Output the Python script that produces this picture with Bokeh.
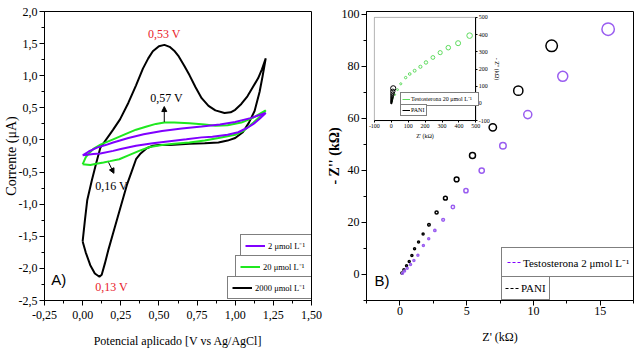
import numpy as np
from bokeh.plotting import figure
from bokeh.models import (Range1d, LinearAxis, FixedTicker, Label, Arrow, NormalHead,
                          Legend, LegendItem, BoxAnnotation)
from bokeh.layouts import row
from bokeh.embed import file_html
from bokeh.resources import INLINE

# ---------------- Panel A: cyclic voltammetry ----------------
cv_2000_potential = [0.00, 0.015, 0.03, 0.06, 0.09, 0.116, 0.14, 0.17, 0.20, 0.245, 0.30, 0.35, 0.395,
                     0.43, 0.46, 0.50, 0.536, 0.57, 0.60, 0.63, 0.665, 0.70, 0.74, 0.78, 0.825, 0.87,
                     0.93, 0.97, 1.00, 1.04, 1.08, 1.115, 1.15, 1.175, 1.20,
                     1.18, 1.16, 1.127, 1.09, 1.05, 1.00, 0.95, 0.89, 0.80, 0.70, 0.57, 0.50, 0.46,
                     0.42, 0.38, 0.35, 0.32, 0.29, 0.26, 0.23, 0.20, 0.17, 0.145, 0.125, 0.11,
                     0.08, 0.05, 0.02, 0.00]
cv_2000_current = [-1.58, -1.25, -0.94, -0.63, -0.35, -0.12, -0.04, 0.06, 0.16, 0.32, 0.58, 0.85, 1.11,
                   1.27, 1.38, 1.46, 1.48, 1.45, 1.39, 1.30, 1.16, 1.01, 0.82, 0.65, 0.53, 0.46,
                   0.42, 0.43, 0.47, 0.56, 0.68, 0.82, 0.96, 1.10, 1.27,
                   1.00, 0.75, 0.45, 0.27, 0.12, 0.03, -0.01, -0.04, -0.05, -0.06, -0.08, -0.08, -0.09,
                   -0.13, -0.21, -0.30, -0.50, -0.70, -0.95, -1.20, -1.45, -1.70, -1.93, -2.10, -2.13,
                   -2.08, -1.95, -1.75, -1.58]

cv_20_potential = [0.00, 0.02, 0.04, 0.07, 0.12, 0.20, 0.28, 0.35, 0.42, 0.48, 0.535, 0.60, 0.70,
                   0.80, 0.87, 0.95, 1.04, 1.12, 1.20,
                   1.17, 1.12, 1.06, 1.00, 0.89, 0.80, 0.70, 0.60, 0.52, 0.44, 0.37, 0.30, 0.24,
                   0.18, 0.137, 0.09, 0.05, 0.00]
cv_20_current = [-0.38, -0.27, -0.21, -0.14, -0.07, 0.01, 0.09, 0.16, 0.21, 0.25, 0.27, 0.27, 0.26,
                 0.24, 0.22, 0.23, 0.27, 0.35, 0.46,
                 0.38, 0.27, 0.15, 0.08, 0.03, -0.01, -0.04, -0.06, -0.08, -0.11, -0.17, -0.24, -0.30,
                 -0.33, -0.35, -0.37, -0.39, -0.38]

cv_2_potential = [0.00, 0.04, 0.094, 0.15, 0.20, 0.30, 0.40, 0.52, 0.65, 0.78, 0.90, 1.00, 1.10, 1.20,
                  1.16, 1.12, 1.08, 1.02, 0.95, 0.85, 0.78, 0.68, 0.57, 0.46, 0.35, 0.25, 0.20, 0.116,
                  0.07, 0.03, 0.00]
cv_2_current = [-0.24, -0.18, -0.12, -0.08, -0.04, 0.03, 0.09, 0.14, 0.18, 0.21, 0.24, 0.28, 0.34, 0.42,
                0.33, 0.25, 0.19, 0.12, 0.08, 0.05, 0.04, 0.01, -0.02, -0.05, -0.09, -0.14, -0.17, -0.21,
                -0.22, -0.23, -0.24]

cv_labels = ["2 μmol L⁻¹", "20 μmol L⁻¹", "2000 μmol L⁻¹"]

a_x_ticks = [-0.25, 0.0, 0.25, 0.5, 0.75, 1.0, 1.25, 1.5]
a_x_tick_labels = ["-0,25", "0,00", "0,25", "0,50", "0,75", "1,00", "1,25", "1,50"]
a_y_ticks = [-2.5, -2.0, -1.5, -1.0, -0.5, 0.0, 0.5, 1.0, 1.5, 2.0]
a_y_tick_labels = ["-2,5", "-2,0", "-1,5", "-1,0", "-0,5", "0,0", "0,5", "1,0", "1,5", "2,0"]

# ---------------- Panel B: impedance (Nyquist) ----------------
pani_zre = [0.15, 0.30, 0.50, 0.70, 0.90, 1.10, 1.40, 1.74, 2.18, 2.75, 3.41, 4.25, 5.44, 6.96, 8.87, 11.37]
pani_zim = [0.6, 1.8, 3.3, 5.0, 7.3, 9.9, 12.5, 15.5, 19.1, 23.8, 29.3, 36.5, 45.7, 56.5, 70.6, 87.8]

testo2_zre = [0.20, 0.35, 0.55, 0.80, 1.05, 1.35, 1.76, 2.16, 2.62, 3.24, 3.97, 4.95, 6.13, 7.72, 9.58, 12.2, 15.6]
testo2_zim = [0.5, 1.3, 2.4, 3.8, 5.4, 7.4, 11.1, 13.7, 16.9, 21.0, 25.9, 32.2, 39.9, 49.4, 61.4, 76.1, 94.2]

testo20_zre = [3, 8, 21, 37, 56, 85, 109, 138, 172, 205, 246, 289, 337, 395, 463]
testo20_zim = [13, 32, 51, 80, 114, 150, 171, 190, 213, 238, 267, 295, 324, 350, 394]

eis_labels = ["Testosterona 2 μmol L⁻¹", "PANI"]
inset_labels = ["Testosterona 20 μmol L⁻¹", "PANI"]

b_x_ticks = [0, 5, 10, 15]
b_y_ticks = [0, 20, 40, 60, 80, 100]
inset_ticks = [-100, 0, 100, 200, 300, 400, 500]

# ---------------- styling ----------------
SERIF = "Liberation Serif"
SANS = "Liberation Sans"
PURPLE = "#8000ff"
GREEN = "#1fe81f"
RED = "#e8202a"
PURPLE_B = "#9a5ef0"
GREEN_B = "#5fdc5f"


def style_axis(ax, ticks, labels, minor, font_size="12px"):
    ax.ticker = FixedTicker(ticks=ticks, minor_ticks=list(minor))
    ax.major_label_overrides = {t: l for t, l in zip(ticks, labels)}
    ax.major_label_text_font = SERIF
    ax.major_label_text_font_size = font_size
    ax.major_label_text_color = "black"
    ax.axis_label_text_font = SERIF
    ax.axis_label_text_font_style = "normal"
    ax.axis_label_text_color = "black"
    ax.axis_line_color = "black"
    ax.major_tick_line_color = "black"
    ax.minor_tick_line_color = "black"
    ax.major_tick_out = 5
    ax.major_tick_in = 0
    ax.minor_tick_out = 3
    ax.minor_tick_in = 0
    ax.major_label_standoff = 2


def boxed_legend(item, loc, font_size, glyph_w, row_h, lab_w, pad, standoff):
    return Legend(items=[item], location=loc,
                  label_text_font=SERIF, label_text_font_size=font_size, label_text_color="black",
                  glyph_width=glyph_w, glyph_height=row_h, label_height=row_h, label_width=lab_w,
                  label_standoff=standoff, padding=pad, margin=0, spacing=0,
                  border_line_color="black", border_line_width=1,
                  background_fill_color="white", background_fill_alpha=1)


# ======== Figure A ========
WA, HA = 323, 360
BLA, BRA, BTA, BBA = 40, 12, 11, 60
FWA, FHA = WA - BLA - BRA, HA - BTA - BBA
pA = figure(width=WA, height=HA, x_range=Range1d(-0.25, 1.5), y_range=Range1d(-2.5, 2.0),
            output_backend="svg", toolbar_location=None,
            min_border_left=BLA, min_border_right=BRA, min_border_top=BTA, min_border_bottom=BBA)
pA.xgrid.visible = False
pA.ygrid.visible = False
pA.outline_line_color = "black"
pA.outline_line_width = 1
pA.background_fill_color = "white"

style_axis(pA.xaxis[0], a_x_ticks, a_x_tick_labels, np.arange(-0.25, 1.5001, 0.125))
style_axis(pA.yaxis[0], a_y_ticks, a_y_tick_labels, np.arange(-2.5, 2.0001, 0.25))
pA.xaxis.major_label_standoff = 5
pA.xaxis.axis_label = "Potencial aplicado [V vs Ag/AgCl]"
pA.xaxis.axis_label_text_font_size = "12px"
pA.xaxis.axis_label_standoff = 12
pA.yaxis.axis_label = "Corrente (μA)"
pA.yaxis.axis_label_text_font_size = "14px"
pA.yaxis.axis_label_standoff = -3

r2000 = pA.line(cv_2000_potential, cv_2000_current, line_color="black", line_width=2)
r20 = pA.line(cv_20_potential, cv_20_current, line_color=GREEN, line_width=2)
r2 = pA.line(cv_2_potential, cv_2_current, line_color=PURPLE, line_width=2)

for txt, x, y, col in [("0,53 V", 0.535, 1.65, RED), ("0,57 V", 0.55, 0.65, "black"),
                       ("0,16 V", 0.19, -0.71, "black"), ("0,13 V", 0.19, -2.29, RED)]:
    pA.add_layout(Label(x=x, y=y, text=txt, text_color=col, text_font=SERIF, text_font_size="12px",
                        text_align="center", text_baseline="middle"))
pA.add_layout(Label(x=-0.205, y=-2.18, text="A)", text_font=SANS, text_font_size="15px",
                    text_align="left", text_baseline="middle", text_color="black"))
pA.add_layout(Arrow(end=NormalHead(size=5, fill_color="black", line_color="black"),
                    x_start=0.535, y_start=0.28, x_end=0.535, y_end=0.52, line_width=1))
pA.add_layout(Arrow(end=NormalHead(size=5, fill_color="black", line_color="black"),
                    x_start=0.17, y_start=-0.35, x_end=0.205, y_end=-0.52, line_width=1))

# stacked legend boxes (Origin style)
leg_lab_w = [44, 49, 57]
for i, (lab, r) in enumerate(zip(cv_labels, [r2, r20, r2000])):
    total_w = 2 * 4 + 20 + 3 + leg_lab_w[i]
    pA.add_layout(boxed_legend(LegendItem(label=lab, renderers=[r]), (FWA - total_w, 1 + 21 * (2 - i)),
                               "8.5px", 20, 13, leg_lab_w[i], 4, 3))

# ======== Figure B ========
WB, HB = 317, 360
BLB, BRB, BTB, BBB = 39, 7, 10, 56
FWB, FHB = WB - BLB - BRB, HB - BTB - BBB
pB = figure(width=WB, height=HB, x_range=Range1d(-2.5, 17.5), y_range=Range1d(-10, 101),
            output_backend="svg", toolbar_location=None,
            min_border_left=BLB, min_border_right=BRB, min_border_top=BTB, min_border_bottom=BBB)
pB.xgrid.visible = False
pB.ygrid.visible = False
pB.outline_line_color = "black"
pB.outline_line_width = 1

style_axis(pB.xaxis[0], b_x_ticks, [str(t) for t in b_x_ticks], np.arange(-2.5, 17.51, 2.5))
style_axis(pB.yaxis[0], b_y_ticks, [str(t) for t in b_y_ticks], np.arange(-10, 101, 10))
pB.xaxis.major_label_standoff = 1
pB.xaxis.axis_label = "Z' (kΩ)"
pB.xaxis.axis_label_text_font_size = "12px"
pB.xaxis.axis_label_standoff = 12
pB.yaxis.axis_label = "- Z'' (kΩ)"
pB.yaxis.axis_label_text_font_size = "14px"
pB.yaxis.axis_label_text_font_style = "bold"
pB.yaxis.axis_label_standoff = -3


def sizes(x, y, k, base, lo):
    return np.clip(base + k * np.hypot(np.asarray(x, float), np.asarray(y, float)), lo, None)


pB.scatter(pani_zre, pani_zim, size=sizes(pani_zre, pani_zim, 0.13, 0.0, 2.0), marker="circle",
           fill_color=None, line_color="black", line_width=1.5)
pB.scatter(testo2_zre, testo2_zim, size=sizes(testo2_zre, testo2_zim, 0.13, 0.0, 2.0), marker="circle",
           fill_color=None, line_color=PURPLE_B, line_width=1.5)

# hidden line renderers only used for the dashed legend samples
leg_t2 = pB.line(testo2_zre, testo2_zim, line_color=PURPLE, line_dash="3 2", line_width=1.2, visible=False)
leg_pani = pB.line(pani_zre, pani_zim, line_color="black", line_dash="3 2", line_width=1.2, visible=False)
LBX = FWB - (2 * 5 + 14 + 2 + 110)
pB.add_layout(boxed_legend(LegendItem(label=eis_labels[0], renderers=[leg_t2]), (LBX, 23),
                           "11px", 14, 18, 110, 5, 2))
pB.add_layout(boxed_legend(LegendItem(label=eis_labels[1], renderers=[leg_pani]), (LBX, 0),
                           "11px", 14, 16, 24, 3, 2))
pB.add_layout(Label(x=-1.9, y=-2.4, text="B)", text_font=SANS, text_font_size="15px",
                    text_align="left", text_baseline="middle", text_color="black"))

# ---- inset (own ranges mapped onto a sub-box of the frame) ----
IL, IR, IT, IB = 8, 111, 6, 111          # inset box in frame pixels (left, right, top, bottom from top)
ppx = (IR - IL) / 600.0
ppy = (IB - IT) / 600.0
pB.extra_x_ranges = {"ix": Range1d(-100 - IL / ppx, 500 + (FWB - IR) / ppx)}
pB.extra_y_ranges = {"iy": Range1d(-100 - (FHB - IB) / ppy, 500 + IT / ppy)}

pB.add_layout(BoxAnnotation(left=-100, right=500, bottom=-100, top=500, x_range_name="ix", y_range_name="iy",
                            fill_color="white", fill_alpha=1, line_color="black", line_width=1,
                            level="underlay"))

pB.scatter(testo20_zre, testo20_zim, size=sizes(testo20_zre, testo20_zim, 0.0072, 1.2, 1.5),
           marker="circle", fill_color=None, line_color=GREEN_B, line_width=1,
           x_range_name="ix", y_range_name="iy")
pB.scatter(pani_zre, pani_zim, size=sizes(pani_zre, pani_zim, 0.05, 0.8, 1.0),
           marker="circle", fill_color=None, line_color="black", line_width=1,
           x_range_name="ix", y_range_name="iy")

ix_axis = LinearAxis(x_range_name="ix", y_range_name="iy", fixed_location=-100, bounds=(-100, 500))
style_axis(ix_axis, inset_ticks, [str(t) for t in inset_ticks], [], font_size="6px")
ix_axis.major_tick_out = 2
ix_axis.major_label_standoff = 1
ix_axis.axis_label = "Z' (kΩ)"
ix_axis.axis_label_text_font_size = "6px"
ix_axis.axis_label_standoff = 2
pB.add_layout(ix_axis, "below")

iy_axis = LinearAxis(x_range_name="ix", y_range_name="iy", fixed_location=500, bounds=(-100, 500))
style_axis(iy_axis, inset_ticks, [str(t) for t in inset_ticks], [], font_size="6px")
iy_axis.major_tick_out = 2
iy_axis.major_label_standoff = 1
iy_axis.axis_label = "- Z'' (kΩ)"
iy_axis.axis_label_text_font_size = "6px"
iy_axis.axis_label_standoff = 2
pB.add_layout(iy_axis, "right")

leg_t20 = pB.line(testo20_zre, testo20_zim, line_color=GREEN_B, line_width=1, visible=False,
                  x_range_name="ix", y_range_name="iy")
leg_pani_i = pB.line(pani_zre, pani_zim, line_color="black", line_width=1, visible=False,
                     x_range_name="ix", y_range_name="iy")
ILX = IR - (2 * 1 + 8 + 1 + 66)
pB.add_layout(boxed_legend(LegendItem(label=inset_labels[0], renderers=[leg_t20]),
                           (ILX, FHB - IB + 11), "6px", 8, 10, 66, 1, 1))
pB.add_layout(boxed_legend(LegendItem(label=inset_labels[1], renderers=[leg_pani_i]),
                           (ILX, FHB - IB + 1), "6px", 8, 8, 14, 1, 1))

layout = row(pA, pB, spacing=0)
open("out.html", "w").write(file_html(layout, INLINE))
